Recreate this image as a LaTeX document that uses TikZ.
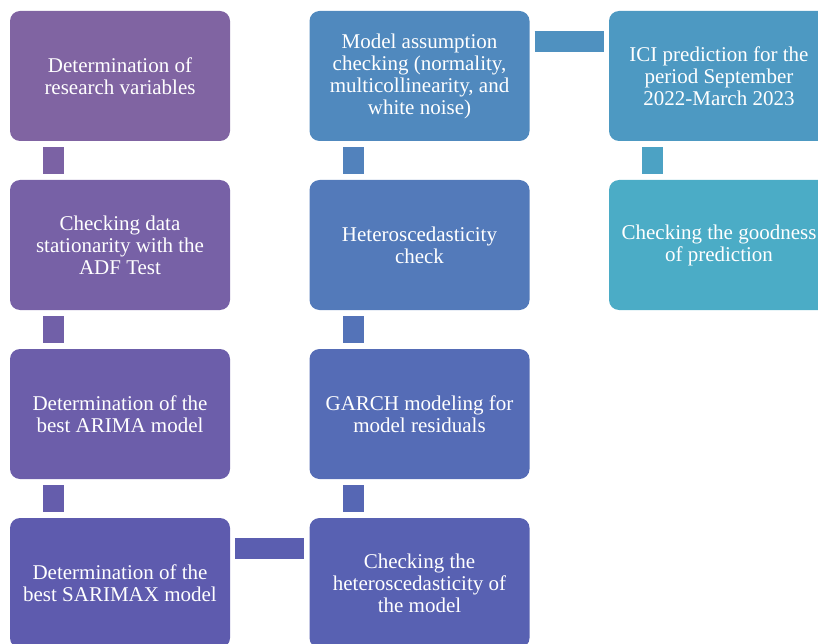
\documentclass[tikz,border=0pt]{standalone}
\usepackage{fontspec}
\setmainfont{Liberation Serif}
\usepackage{tikz}
\usepackage{color}

\definecolor{c1}{RGB}{128,100,162}
\definecolor{c2}{RGB}{119,97,166}
\definecolor{c3}{RGB}{108,94,170}
\definecolor{c4}{RGB}{94,91,174}
\definecolor{c5}{RGB}{88,97,178}
\definecolor{c6}{RGB}{85,108,182}
\definecolor{c7}{RGB}{83,122,186}
\definecolor{c8}{RGB}{80,137,190}
\definecolor{c9}{RGB}{77,153,194}
\definecolor{c10}{RGB}{75,172,198}

\begin{document}
\begin{tikzpicture}[x=1pt,y=-1pt,
  box/.style={rectangle,rounded corners=10pt,minimum width=220pt,minimum height=130pt,
    inner sep=0pt,align=center,text=white,font=\fontsize{21}{22}\selectfont},
  link/.style={line width=21pt,shorten <=6pt,shorten >=6pt},
  hlink/.style={line width=21pt,shorten <=5pt,shorten >=5pt}]
\useasboundingbox (0,0) rectangle (818,644);
\clip (0,0) rectangle (818,644);

\node[box,fill=c1] (1) at (120,76) {Determination of\\research variables};
\node[box,fill=c2] (2) at (120,245) {Checking data\\stationarity with the\\ADF Test};
\node[box,fill=c3] (3) at (120,414) {Determination of the\\best ARIMA model};
\node[box,fill=c4] (4) at (120,583) {Determination of the\\best SARIMAX model};

\node[box,fill=c5] (5) at (419.5,583) {Checking the\\heteroscedasticity of\\the model};
\node[box,fill=c6] (6) at (419.5,414) {GARCH modeling for\\model residuals};
\node[box,fill=c7] (7) at (419.5,245) {Heteroscedasticity\\check};
\node[box,fill=c8] (8) at (419.5,76) {Model assumption\\checking (normality,\\multicollinearity, and\\white noise)};

\node[box,fill=c9] (9) at (719,76) {ICI prediction for the\\period September\\2022-March 2023};
\node[box,fill=c10] (10) at (719,245) {Checking the goodness\\of prediction};

% connectors
\draw[link,c1!50!c2] ([xshift=44pt]1.south west) -- ([xshift=44pt]2.north west);
\draw[link,c2!50!c3] ([xshift=44pt]2.south west) -- ([xshift=44pt]3.north west);
\draw[link,c3!50!c4] ([xshift=44pt]3.south west) -- ([xshift=44pt]4.north west);
\draw[hlink,c4!50!c5] ([yshift=-31pt]4.north east) -- ([yshift=-31pt]5.north west);
\draw[link,c5!50!c6] ([xshift=44pt]5.north west) -- ([xshift=44pt]6.south west);
\draw[link,c6!50!c7] ([xshift=44pt]6.north west) -- ([xshift=44pt]7.south west);
\draw[link,c7!50!c8] ([xshift=44pt]7.north west) -- ([xshift=44pt]8.south west);
\draw[hlink,c8!50!c9] ([yshift=-31pt]8.north east) -- ([yshift=-31pt]9.north west);
\draw[link,c9!50!c10] ([xshift=44pt]9.south west) -- ([xshift=44pt]10.north west);
\end{tikzpicture}
\end{document}
